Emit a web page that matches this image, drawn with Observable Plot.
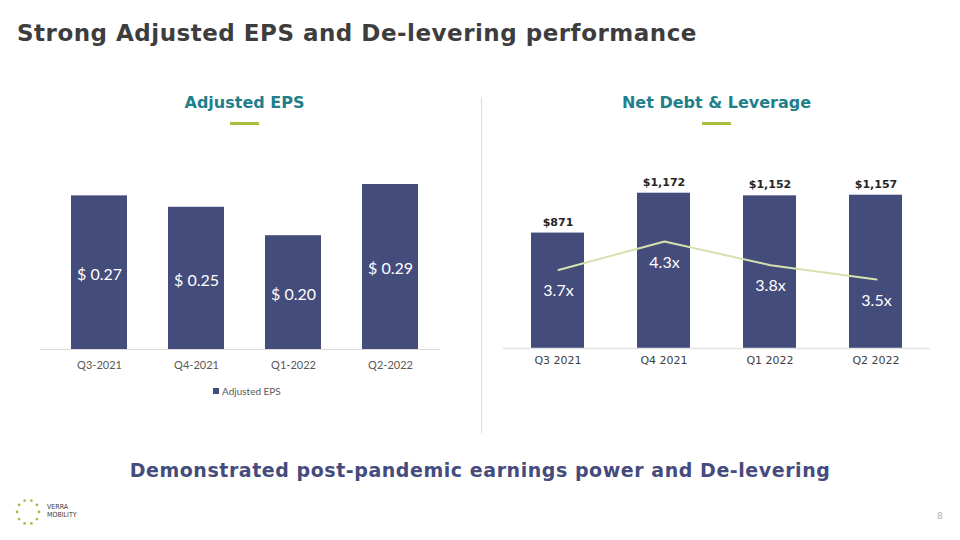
<!DOCTYPE html>
<html><head><meta charset="utf-8">
<script src="https://cdn.jsdelivr.net/npm/d3@7"></script>
<script src="https://cdn.jsdelivr.net/npm/@observablehq/plot@0.6"></script>
<style>
html,body{margin:0;padding:0;background:#fff;}
body{width:960px;height:540px;overflow:hidden;position:relative;font-family:"DejaVu Sans",sans-serif;}
.abs{position:absolute;}
#title{left:17px;top:18px;font-size:23px;letter-spacing:0.5px;font-weight:bold;color:#3d3d3d;white-space:nowrap;line-height:30px;}
.hdr{font-size:16px;font-weight:bold;color:#217f8c;transform:translateX(-50%);white-space:nowrap;line-height:20px;}
.ul{width:29px;height:3px;background:#a9bd3f;}
#divider{left:481px;top:97px;width:1px;height:336px;background:#dcdcdc;}
#bottom{left:0;width:960px;top:457px;text-align:center;font-size:19px;letter-spacing:0.55px;font-weight:bold;color:#454b7d;line-height:26px;}
#legend{left:213px;top:384px;font-family:Lato,sans-serif;font-size:10px;color:#595959;line-height:14px;white-space:nowrap;}
#legend span{display:inline-block;width:6px;height:6px;background:#444c7c;margin-right:3px;vertical-align:1px;}
#pnum{left:937px;top:511px;font-size:9px;color:#b0b0b0;}
#logotext{left:47px;top:503px;font-size:7px;color:#3a3a3a;line-height:8px;font-family:"DejaVu Sans Condensed","DejaVu Sans",sans-serif;}
#logo{left:14px;top:497px;}
svg{overflow:visible;}
</style>
</head><body>
<div id="title" class="abs">Strong Adjusted EPS and De-levering performance</div>
<div class="abs hdr" style="left:244.5px;top:93px;">Adjusted EPS</div>
<div class="abs hdr" style="left:716.5px;top:93px;">Net Debt &amp; Leverage</div>
<div class="abs ul" style="left:230px;top:122px;"></div>
<div class="abs ul" style="left:702px;top:122px;"></div>
<div id="divider" class="abs"></div>
<div id="leftChart" class="abs" style="left:30px;top:170px;"></div>
<div id="rightChart" class="abs" style="left:480px;top:160px;"></div>
<div id="rightOverlay" class="abs" style="left:480px;top:160px;"></div>
<div id="legend" class="abs"><span></span>Adjusted EPS</div>
<div id="bottom" class="abs">Demonstrated post-pandemic earnings power and De-levering</div>
<div id="logo" class="abs"></div>
<div id="logotext" class="abs">VERRA<br>MOBILITY</div>
<div id="pnum" class="abs">8</div>
<script>
// ---- data ----
const epsQuarters = ["Q3-2021", "Q4-2021", "Q1-2022", "Q2-2022"];
const epsValues = [0.27, 0.25, 0.20, 0.29];
const debtQuarters = ["Q3 2021", "Q4 2021", "Q1 2022", "Q2 2022"];
const netDebt = [871, 1172, 1152, 1157];
const leverage = [3.7, 4.3, 3.8, 3.5];

const eps = epsQuarters.map((q, i) => ({q, v: epsValues[i]}));
const debt = debtQuarters.map((q, i) => ({q, d: netDebt[i], l: leverage[i]}));

const navy = "#444c7c";

// ---- left chart: Adjusted EPS ----
const left = Plot.plot({
  width: 420, height: 209,
  marginLeft: 10, marginRight: 10, marginTop: 14, marginBottom: 30,
  x: {domain: epsQuarters, paddingInner: 0.419, paddingOuter: 0.265, align: 0.58, label: null, tickSize: 0, tickPadding: 12},
  y: {domain: [0, 0.29], axis: null},
  style: {fontFamily: "Lato, sans-serif", fontSize: "11px", color: "#595959", background: "transparent"},
  marks: [
    Plot.barY(eps, {x: "q", y: "v", fill: navy}),
    Plot.ruleY([0], {stroke: "#d9d9d9", strokeWidth: 1}),
    Plot.text(eps, {x: "q", y: d => d.v / 2, text: d => "$ " + d.v.toFixed(2), dy: 2, fill: "white", fontSize: 16})
  ]
});
document.getElementById("leftChart").appendChild(left);

// ---- right chart: Net Debt bars ----
const rx = {domain: debtQuarters, paddingInner: 0.5, paddingOuter: 0.259, align: 0.5, label: null, tickSize: 0, tickPadding: 8};
const right = Plot.plot({
  width: 460, height: 218,
  marginLeft: 23, marginRight: 10, marginTop: 32.7, marginBottom: 30,
  x: rx,
  y: {domain: [0, 1172], axis: null},
  style: {fontFamily: "DejaVu Sans, sans-serif", fontSize: "11px", color: "#404040", background: "transparent"},
  marks: [
    Plot.barY(debt, {x: "q", y: "d", fill: navy}),
    Plot.ruleY([0], {stroke: "#e3e3e3", strokeWidth: 1.5}),
    Plot.text(debt, {x: "q", y: "d", text: d => "$" + d3.format(",")(d.d), dy: -11, fill: "#262626", fontSize: 11, fontWeight: "bold"})
  ]
});
document.getElementById("rightChart").appendChild(right);

// ---- overlay: leverage line (secondary axis) ----
const overlay = Plot.plot({
  width: 460, height: 218,
  marginLeft: 23, marginRight: 10, marginTop: 32.7, marginBottom: 30,
  x: {...rx, axis: null},
  y: {domain: [2.047, 5.317], axis: null},
  style: {fontFamily: "Lato, sans-serif", background: "transparent"},
  marks: [
    Plot.line(debt, {x: "q", y: "l", stroke: "#d6e2ae", strokeWidth: 2}),
    Plot.text(debt, {x: "q", y: "l", text: d => d.l.toFixed(1) + "x", dy: 21, fill: "white", fontSize: 16})
  ]
});
document.getElementById("rightOverlay").appendChild(overlay);

// ---- logo mark (decorative) ----
const ns = "http://www.w3.org/2000/svg";
const lg = document.createElementNS(ns, "svg");
lg.setAttribute("width", 28); lg.setAttribute("height", 30);
for (let i = 0; i < 10; i++) {
  const a = i / 10 * 2 * Math.PI;
  const c = document.createElementNS(ns, "circle");
  c.setAttribute("cx", 14 + 11 * Math.cos(a));
  c.setAttribute("cy", 15 + 12 * Math.sin(a));
  c.setAttribute("r", 1.4);
  c.setAttribute("fill", "#a9bd3f");
  lg.appendChild(c);
}
document.getElementById("logo").appendChild(lg);
</script>
</body></html>
